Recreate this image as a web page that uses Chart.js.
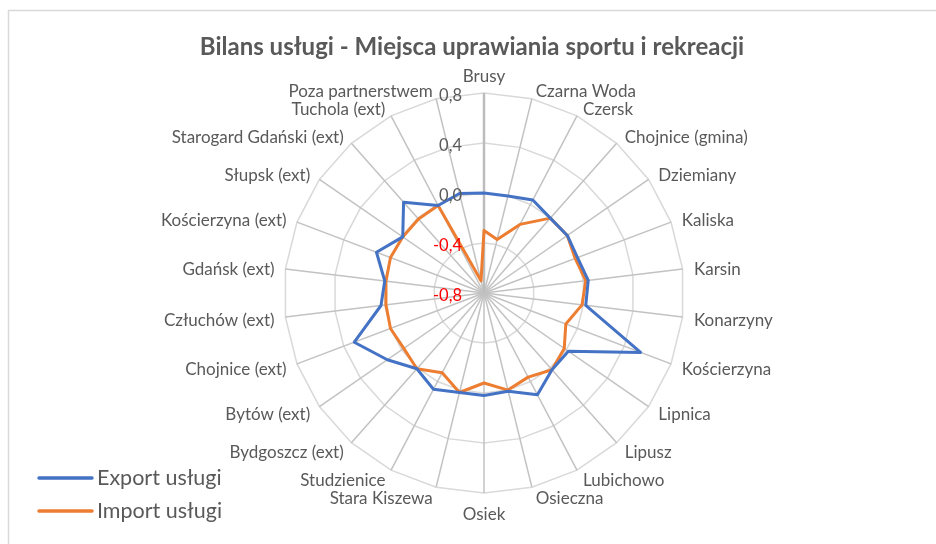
<!DOCTYPE html>
<html>
<head>
<meta charset="utf-8">
<script src="https://cdn.jsdelivr.net/npm/chart.js@4/dist/chart.umd.min.js"></script>
<style>
html,body{margin:0;padding:0;background:#fff;}
canvas{display:block;}
</style>
</head>
<body>
<canvas id="c" width="936" height="544"></canvas>
<script>
const chartTitle = 'Bilans usługi - Miejsca uprawiania sportu i rekreacji';
const categories = [
  'Brusy', 'Czarna Woda', 'Czersk', 'Chojnice (gmina)', 'Dziemiany', 'Kaliska',
  'Karsin', 'Konarzyny', 'Kościerzyna', 'Lipnica', 'Lipusz', 'Lubichowo',
  'Osieczna', 'Osiek', 'Stara Kiszewa', 'Studzienice', 'Bydgoszcz (ext)',
  'Bytów (ext)', 'Chojnice (ext)', 'Człuchów (ext)', 'Gdańsk (ext)',
  'Kościerzyna (ext)', 'Słupsk (ext)', 'Starogard Gdański (ext)',
  'Tuchola (ext)', 'Poza partnerstwem'
];
const exportLabel = 'Export usługi';
const importLabel = 'Import usługi';
const exportValues = [
  0.00, 0.00, 0.04, 0.00, 0.01, 0.00,
  0.04, 0.02, 0.54, 0.02, 0.02, 0.12,
  0.01, 0.02, 0.02, 0.07, 0.01,
  0.14, 0.31, 0.03, 0.00,
  0.12, -0.01, 0.17,
  -0.01, 0.02
];
const importValues = [
  -0.30, -0.36, -0.18, 0.00, 0.01, -0.02,
  0.02, -0.01, -0.10, -0.02, 0.02, -0.04,
  0.00, -0.08, 0.02, -0.08, 0.01,
  -0.02, 0.00, -0.01, -0.01,
  0.00, -0.01, -0.01,
  -0.01, -0.70
];
const axisMin = -0.8;
const axisMax = 0.8;
const axisStep = 0.4;

const TEXT = '#595959';
const FONT = 'Lato, "Open Sans", sans-serif';

function fmtTick(v) {
  let r = Math.round(v * 10) / 10;
  if (Math.abs(r) < 1e-9) r = 0;
  return r.toFixed(1).replace('.', ',');
}

const decorPlugin = {
  id: 'decor',
  beforeDraw(chart) {
    const ctx = chart.ctx;
    ctx.save();
    ctx.fillStyle = '#fff';
    ctx.fillRect(0, 0, chart.width, chart.height);
    ctx.strokeStyle = '#d9d9d9';
    ctx.lineWidth = 1.5;
    ctx.beginPath();
    ctx.moveTo(8.5, chart.height);
    ctx.lineTo(8.5, 10.5);
    ctx.lineTo(chart.width, 10.5);
    ctx.stroke();
    ctx.restore();
  },
  afterDraw(chart) {
    const ctx = chart.ctx;
    const scale = chart.scales.r;
    const n = categories.length;
    ctx.save();
    // title
    ctx.fillStyle = TEXT;
    ctx.font = 'bold 24px ' + FONT;
    ctx.textAlign = 'center';
    ctx.textBaseline = 'middle';
    ctx.fillText(chartTitle, 472, 47);

    // tick labels
    ctx.font = '16.5px ' + FONT;
    ctx.textAlign = 'right';
    ctx.textBaseline = 'middle';
    scale.ticks.forEach(t => {
      const d = scale.getDistanceFromCenterForValue(t.value);
      ctx.fillStyle = t.value < -1e-9 ? '#ff0000' : TEXT;
      ctx.fillText(fmtTick(t.value), scale.xCenter - 22, scale.yCenter - d + 3);
    });

    // point labels
    ctx.font = '17px ' + FONT;
    ctx.fillStyle = TEXT;
    categories.forEach((lab, i) => {
      const deg = Math.round(i * 360 / n * 100) / 100;
      const p = scale.getPointPosition(i, scale.drawingArea + 10);
      let x = p.x, y = p.y + 2;
      let align = 'left', base = 'middle';
      if (deg === 0) { align = 'center'; base = 'bottom'; y = p.y + 2; }
      else if (deg === 180) { align = 'center'; base = 'top'; y = p.y + 3; }
      else if (deg > 180) { align = 'right'; x -= 1; }
      else { x += 1.5; }
      ctx.textAlign = align;
      ctx.textBaseline = base;
      ctx.fillText(lab, x, y);
    });

    // legend
    chart.data.datasets.forEach((ds, k) => {
      const y = 478 + k * 33;
      ctx.strokeStyle = ds.borderColor;
      ctx.lineWidth = 3.5;
      ctx.lineCap = 'round';
      ctx.beginPath();
      ctx.moveTo(39, y);
      ctx.lineTo(92, y);
      ctx.stroke();
      ctx.fillStyle = TEXT;
      ctx.font = '21.5px ' + FONT;
      ctx.textAlign = 'left';
      ctx.textBaseline = 'middle';
      ctx.fillText(ds.label, 97, y);
    });
    ctx.restore();
  }
};

new Chart(document.getElementById('c'), {
  type: 'radar',
  data: {
    labels: categories,
    datasets: [
      {
        label: exportLabel,
        data: exportValues,
        borderColor: '#4472C4',
        backgroundColor: 'transparent',
        borderWidth: 3,
        pointRadius: 0,
        fill: false,
        tension: 0,
        borderJoinStyle: 'round'
      },
      {
        label: importLabel,
        data: importValues,
        borderColor: '#ED7D31',
        backgroundColor: 'transparent',
        borderWidth: 3,
        pointRadius: 0,
        fill: false,
        tension: 0,
        borderJoinStyle: 'round'
      }
    ]
  },
  options: {
    responsive: false,
    animation: false,
    devicePixelRatio: 1,
    layout: { padding: { top: 93, bottom: 51, left: 32, right: 0 } },
    plugins: {
      legend: { display: false },
      title: { display: false },
      tooltip: { enabled: false }
    },
    scales: {
      r: {
        min: axisMin,
        max: axisMax,
        ticks: { stepSize: axisStep, display: false },
        pointLabels: { display: false },
        grid: { color: '#d9d9d9', lineWidth: 1.5 },
        angleLines: {
          color: ctx => ctx.index === 0 ? '#bcbcbc' : '#c2c2c2',
          lineWidth: ctx => ctx.index === 0 ? 2.5 : 1.5
        }
      }
    }
  },
  plugins: [decorPlugin]
});
</script>
</body>
</html>
